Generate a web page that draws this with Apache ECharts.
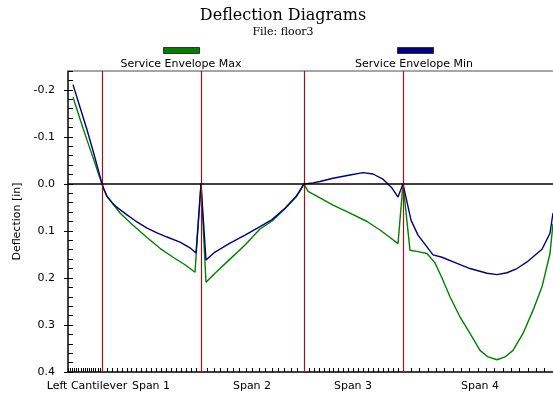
<!DOCTYPE html>
<html>
<head>
<meta charset="utf-8">
<script src="https://cdn.jsdelivr.net/npm/echarts@6/dist/echarts.min.js"></script>
<style>html,body{margin:0;padding:0;background:#fff}#c{width:553px;height:396px}</style>
</head>
<body>
<div id="c"></div>
<script>
// Span names and label positions (ft along the slab strip)
var spanNames = ['Left Cantilever', 'Span 1', 'Span 2', 'Span 3', 'Span 4'];
var spanLabelPos = [1.9, 8.3, 18.4, 28.5, 41.2];
// Support locations (ft)
var supports = [3.4, 13.3, 23.6, 33.5];
var spanEnds = [0, 3.4, 13.3, 23.6, 33.5, 48.5];
var spanTickCounts = [16, 20, 16, 20, 18];
// Y tick labels (in)
var yTicks = [-0.2, -0.1, 0.0, 0.1, 0.2, 0.3, 0.4];

// Service Envelope Max (green)
var maxX = [0.5, 1.2, 1.9, 2.6, 3.1, 3.4, 3.6, 3.9, 4.5, 5.2, 6.5, 7.9, 9.2, 10.5, 11.7, 12.7, 13.3,
  13.8, 14.7, 16.2, 17.7, 19.2, 20.4, 21.7, 22.8, 23.3, 23.6,
  24.0, 25.2, 26.5, 28.2, 29.9, 31.2, 32.2, 33.0, 33.5,
  34.2, 35.0, 35.9, 36.7, 37.4, 38.2, 39.2, 40.2, 41.2, 42.0, 42.9, 43.7, 44.5, 45.5, 46.5, 47.4, 48.2, 48.5];
var maxY = [-0.184, -0.138, -0.093, -0.050, -0.018, 0, 0.012, 0.026, 0.043, 0.062, 0.088, 0.114, 0.137, 0.156, 0.172, 0.188, 0,
  0.209, 0.190, 0.160, 0.130, 0.096, 0.079, 0.053, 0.028, 0.012, 0,
  0.016, 0.030, 0.045, 0.062, 0.080, 0.098, 0.114, 0.127, 0,
  0.141, 0.144, 0.148, 0.168, 0.200, 0.240, 0.283, 0.318, 0.354, 0.368, 0.374, 0.368, 0.354, 0.318, 0.269, 0.219, 0.148, 0.085];

// Service Envelope Min (blue)
var minX = [0.5, 1.2, 1.9, 2.6, 3.1, 3.4, 3.6, 3.9, 4.5, 4.9, 5.9, 6.9, 7.9, 8.9, 9.9, 11.2, 12.2, 12.8, 13.3,
  13.8, 14.7, 16.2, 17.7, 19.2, 20.4, 21.7, 22.8, 23.3, 23.6,
  24.5, 25.2, 26.5, 28.2, 29.5, 30.5, 31.5, 32.4, 33.0, 33.5,
  34.3, 35.0, 35.9, 36.5, 37.4, 38.9, 40.2, 41.9, 42.9, 43.9, 44.9, 45.9, 47.4, 48.2, 48.5];
var minY = [-0.211, -0.163, -0.115, -0.063, -0.024, 0, 0.012, 0.027, 0.042, 0.050, 0.066, 0.081, 0.094, 0.104, 0.113, 0.124, 0.136, 0.147, 0,
  0.162, 0.145, 0.126, 0.109, 0.091, 0.076, 0.052, 0.027, 0.010, 0,
  -0.002, -0.005, -0.012, -0.019, -0.024, -0.021, -0.010, 0.009, 0.028, 0,
  0.077, 0.109, 0.134, 0.151, 0.156, 0.169, 0.180, 0.190, 0.193, 0.189, 0.180, 0.166, 0.139, 0.105, 0.062];

function pairs(xs, ys) { return xs.map(function (x, i) { return [x, ys[i]]; }); }

// x-axis tick positions (analysis stations), subdivided per span
var xTickPos = [];
for (var s = 0; s < spanTickCounts.length; s++) {
  var a = spanEnds[s], b = spanEnds[s + 1], n = spanTickCounts[s];
  for (var k = 0; k < n; k++) xTickPos.push(+(a + (b - a) * k / n).toFixed(4));
}
xTickPos.push(spanEnds[spanEnds.length - 1]);

var yMinor = [];
for (var v = -24; v <= 40; v += 2) yMinor.push(v / 100);

var XMIN = 0, XMAX = 48.5, YMIN = -0.24, YMAX = 0.4;
var sans = 'DejaVu Sans';
var chart = echarts.init(document.getElementById('c'), null, { renderer: 'canvas' });
chart.setOption({
  animation: false,
  backgroundColor: '#fff',
  title: {
    text: 'Deflection Diagrams', subtext: 'File: floor3',
    left: 283, top: 8, textAlign: 'center', itemGap: 3, padding: 0,
    textStyle: { fontFamily: 'DejaVu Serif', fontSize: 16, fontWeight: 'normal', color: '#000' },
    subtextStyle: { fontFamily: 'DejaVu Serif', fontSize: 11, color: '#000' }
  },
  grid: { left: 68, right: 0, top: 71, bottom: 24, containLabel: false, outerBoundsMode: 'none' },
  xAxis: [{
    type: 'value', position: 'bottom', min: XMIN, max: XMAX,
    axisLine: { show: true, onZero: false, lineStyle: { color: '#000', width: 1.5 } },
    axisTick: { show: true, inside: true, length: 4, customValues: xTickPos, lineStyle: { color: '#000', width: 1 } },
    axisLabel: {
      show: true, customValues: spanLabelPos, margin: 9, color: '#000', fontFamily: sans, fontSize: 11,
      formatter: function (val) {
        var best = 0;
        for (var i = 1; i < spanLabelPos.length; i++) if (Math.abs(spanLabelPos[i] - val) < Math.abs(spanLabelPos[best] - val)) best = i;
        return spanNames[best];
      }
    },
    splitLine: { show: false }
  }, {
    type: 'value', position: 'top', min: XMIN, max: XMAX,
    axisLine: { show: true, onZero: false, lineStyle: { color: '#888', width: 1.5 } },
    axisTick: { show: false }, axisLabel: { show: false }, splitLine: { show: false }
  }],
  yAxis: [{
    type: 'value', inverse: true, min: YMIN, max: YMAX,
    name: 'Deflection [in]', nameLocation: 'middle', nameGap: 44, nameRotate: 90,
    nameTextStyle: { fontFamily: sans, fontSize: 11, color: '#000' },
    axisLine: { show: true, onZero: false, lineStyle: { color: '#000', width: 1.5 } },
    axisTick: { show: true, customValues: yTicks, length: 4, lineStyle: { color: '#000', width: 1 } },
    axisLabel: {
      show: true, customValues: yTicks, margin: 13, color: '#000', fontFamily: sans, fontSize: 11,
      formatter: function (val) { return (Math.abs(val) < 1e-9 ? 0 : val).toFixed(1); }
    },
    splitLine: { show: false }
  }, {
    type: 'value', inverse: true, min: YMIN, max: YMAX, position: 'left', offset: 0,
    axisLine: { show: false, onZero: false },
    axisTick: { show: true, inside: true, customValues: yMinor, length: 5, lineStyle: { color: '#000', width: 1 } },
    axisLabel: { show: false }, splitLine: { show: false }
  }],
  series: [{
    name: 'Service Envelope Max', type: 'line', data: pairs(maxX, maxY),
    showSymbol: false, symbol: 'none', lineStyle: { color: '#008000', width: 1.4 }, z: 3,
    markLine: {
      silent: true, symbol: ['none', 'none'], label: { show: false },
      lineStyle: { color: '#9b1515', width: 1.2, type: 'solid' },
      data: supports.map(function (x) { return { xAxis: x }; })
    }
  }, {
    name: 'Service Envelope Min', type: 'line', data: pairs(minX, minY),
    showSymbol: false, symbol: 'none', lineStyle: { color: '#000080', width: 1.4 }, z: 4,
    markLine: {
      silent: true, symbol: ['none', 'none'], label: { show: false },
      lineStyle: { color: '#000', width: 1.5, type: 'solid' },
      data: [{ yAxis: 0 }]
    }
  }],
  graphic: [
    { type: 'rect', shape: { x: 163.5, y: 47.5, width: 36, height: 6 }, style: { fill: '#008000', stroke: '#333', lineWidth: 1 } },
    { type: 'rect', shape: { x: 397.5, y: 47.5, width: 36, height: 6 }, style: { fill: '#000080', stroke: '#333', lineWidth: 1 } },
    { type: 'text', x: 181, y: 64, style: { text: 'Service Envelope Max', fill: '#000', font: '11px "DejaVu Sans"', textAlign: 'center', textVerticalAlign: 'middle' } },
    { type: 'text', x: 414, y: 64, style: { text: 'Service Envelope Min', fill: '#000', font: '11px "DejaVu Sans"', textAlign: 'center', textVerticalAlign: 'middle' } }
  ]
});
</script>
</body>
</html>
